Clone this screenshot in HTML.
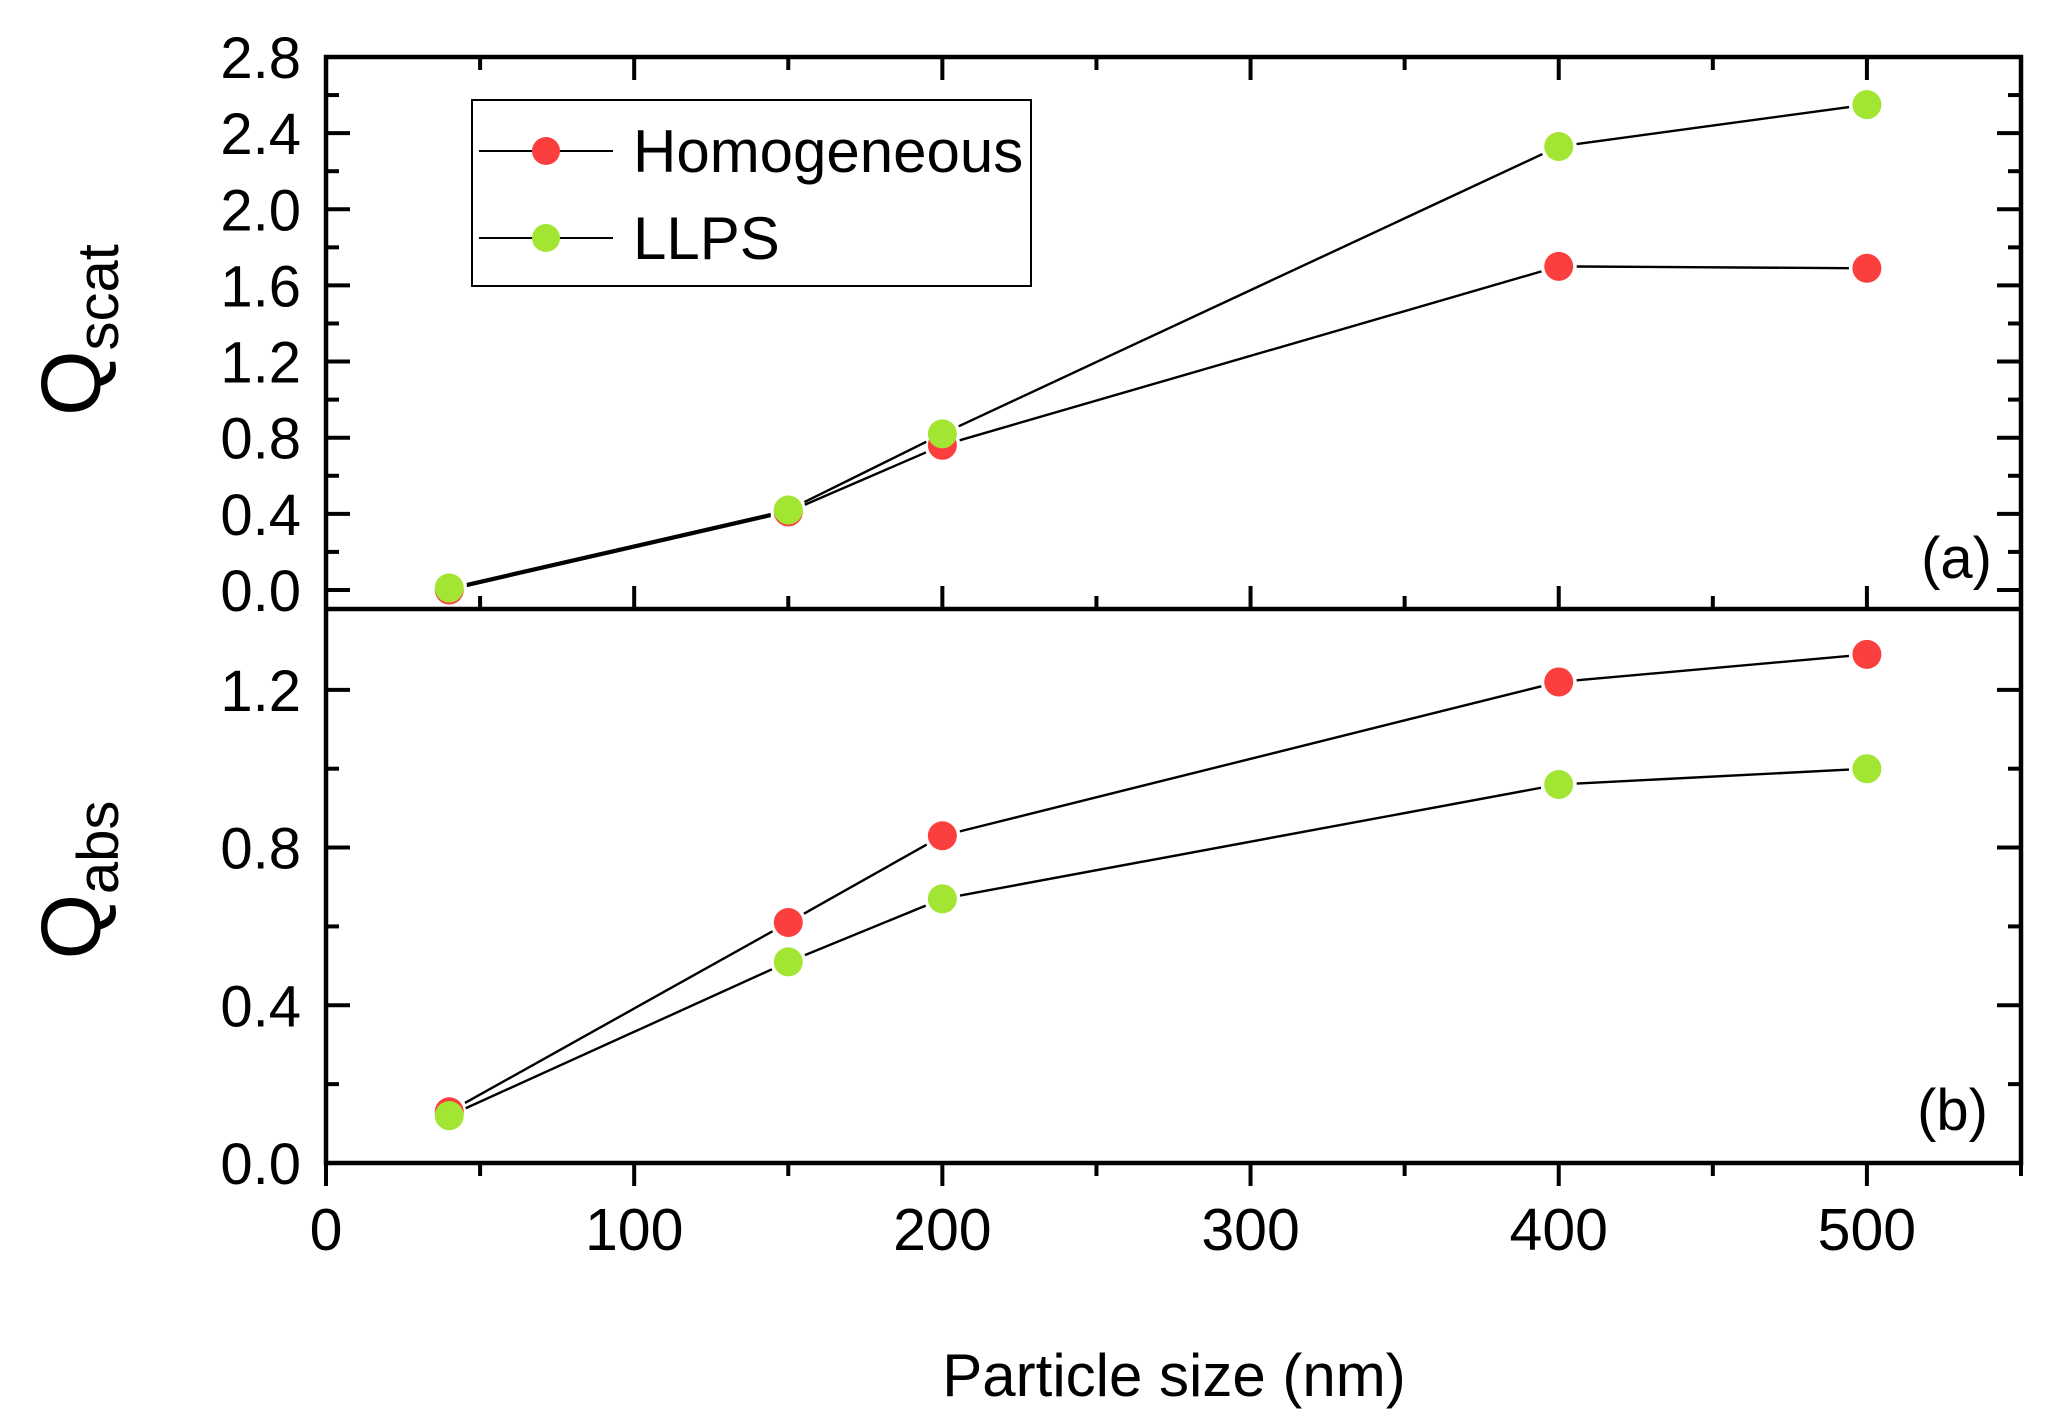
<!DOCTYPE html>
<html><head><meta charset="utf-8"><style>
html,body{margin:0;padding:0;background:#fff;}
svg{display:block;font-family:"Liberation Sans",Arial,sans-serif;}
</style></head><body>
<svg id="chart" width="2067" height="1423" viewBox="0 0 2067 1423" xmlns="http://www.w3.org/2000/svg">
<rect width="2067" height="1423" fill="#fff"/>
<g id="plot"></g>
</svg>
<script>
const sizes = [40, 150, 200, 400, 500];
const scatHomog = [0.00, 0.41, 0.76, 1.70, 1.69];
const scatLLPS = [0.01, 0.42, 0.82, 2.33, 2.55];
const absHomog = [0.13, 0.61, 0.83, 1.22, 1.29];
const absLLPS = [0.12, 0.51, 0.67, 0.96, 1.00];
const xTicks = [0, 100, 200, 300, 400, 500];
const scatTicks = ["0.0","0.4","0.8","1.2","1.6","2.0","2.4","2.8"];
const absTicks = ["0.0","0.4","0.8","1.2"];

const NS = "http://www.w3.org/2000/svg";
const g = document.getElementById('plot');
function mk(tag, attrs, parent) {
  const e = document.createElementNS(NS, tag);
  for (const k in attrs) e.setAttribute(k, attrs[k]);
  (parent || g).appendChild(e);
  return e;
}
const L = 326, R = 2021, T = 57, MID = 609, B = 1163;
const xS = v => L + (v / 550) * (R - L);
const yTop = v => T + (2.8 - v) / 2.9 * (MID - T);
const yBot = v => B - v / 1.405 * (B - MID);
const RED = "#fb3f3f", GREEN = "#a2e532";

let e;
e = mk('rect', {x: L, y: T, width: R - L, height: B - T, fill: 'none', stroke: '#000', 'stroke-width': 4.5});
 
e = mk('line', {x1: L, x2: R, y1: MID, y2: MID, stroke: '#000', 'stroke-width': 4.5});
 

for (let v = 0; v <= 550; v += 50) {
  const x = xS(v), major = v % 100 === 0, len = major ? 23 : 13;
  e = mk('line', {x1: x, x2: x, y1: T, y2: T + len, stroke: '#000', 'stroke-width': 4});
   
  e = mk('line', {x1: x, x2: x, y1: MID, y2: MID - len, stroke: '#000', 'stroke-width': 4});
   
  e = mk('line', {x1: x, x2: x, y1: B, y2: B + len, stroke: '#000', 'stroke-width': 4});
   
}
xTicks.forEach(v => {
  e = mk('text', {x: xS(v), y: 1250, 'font-size': 59, 'text-anchor': 'middle'});
  e.textContent = String(v);
   
});

for (let i = 0; i <= 14; i++) {
  const v = i * 0.2; if (v > 2.8001) break;
  const y = yTop(v), major = i % 2 === 0, len = major ? 24 : 13;
  e = mk('line', {x1: L, x2: L + len, y1: y, y2: y, stroke: '#000', 'stroke-width': 4});
   
  e = mk('line', {x1: R, x2: R - len, y1: y, y2: y, stroke: '#000', 'stroke-width': 4});
   
}
scatTicks.forEach(t => {
  e = mk('text', {x: 301, y: yTop(parseFloat(t)) + 21, 'font-size': 58, 'text-anchor': 'end'});
  e.textContent = t;
   
});
for (let i = 0; i <= 7; i++) {
  const v = i * 0.2; const y = yBot(v);
  if (y < MID + 2) break;
  const major = i % 2 === 0, len = major ? 24 : 13;
  e = mk('line', {x1: L, x2: L + len, y1: y, y2: y, stroke: '#000', 'stroke-width': 4});
   
  e = mk('line', {x1: R, x2: R - len, y1: y, y2: y, stroke: '#000', 'stroke-width': 4});
   
}
absTicks.forEach(t => {
  e = mk('text', {x: 301, y: yBot(parseFloat(t)) + 21, 'font-size': 58, 'text-anchor': 'end'});
  e.textContent = t;
   
});

function series(vals, yf, color, name) {
  const gap = 18;
  for (let i = 0; i < sizes.length - 1; i++) {
    const x1 = xS(sizes[i]), y1 = yf(vals[i]), x2 = xS(sizes[i + 1]), y2 = yf(vals[i + 1]);
    const d = Math.hypot(x2 - x1, y2 - y1), ux = (x2 - x1) / d, uy = (y2 - y1) / d;
    e = mk('line', {x1: x1 + ux * gap, y1: y1 + uy * gap, x2: x2 - ux * gap, y2: y2 - uy * gap, stroke: '#000', 'stroke-width': 2.4});
     
  }
  sizes.forEach((s, i) => {
    e = mk('circle', {cx: xS(s), cy: yf(vals[i]), r: 14.5, fill: color});
     
  });
}
series(scatHomog, yTop, RED, 'scat-homogeneous');
series(scatLLPS, yTop, GREEN, 'scat-llps');
series(absHomog, yBot, RED, 'abs-homogeneous');
series(absLLPS, yBot, GREEN, 'abs-llps');

e = mk('rect', {x: 472, y: 100, width: 559, height: 186, fill: '#fff', stroke: '#000', 'stroke-width': 2});
 
[[151, RED, 'Homogeneous'], [238, GREEN, 'LLPS']].forEach(([y, c, t]) => {
  e = mk('line', {x1: 479, x2: 613, y1: y, y2: y, stroke: '#000', 'stroke-width': 2});
   
  e = mk('circle', {cx: 546, cy: y, r: 14, fill: c});
   
  e = mk('text', {x: 633, y: y + 21, 'font-size': 60});
  e.textContent = t;
   
});

e = mk('text', {x: 1992, y: 578, 'font-size': 58, 'text-anchor': 'end'}); e.textContent = '(a)';
 
e = mk('text', {x: 1988, y: 1130, 'font-size': 58, 'text-anchor': 'end'}); e.textContent = '(b)';
 

e = mk('text', {x: 1174, y: 1396, 'font-size': 60, 'text-anchor': 'middle'}); e.textContent = 'Particle size (nm)';
 
function ylab(cx, cy, sub, name) {
  const t = mk('text', {x: 0, y: 0, 'font-size': 84, 'text-anchor': 'middle', transform: `translate(${cx},${cy}) rotate(-90)`});
   
  const a = mk('tspan', {}, t); a.textContent = 'Q';
  const b = mk('tspan', {'font-size': 58, dy: 18}, t); b.textContent = sub;
}
ylab(100, 330, 'scat', 'y-axis-title-scat');
ylab(100, 880, 'abs', 'y-axis-title-abs');
</script>
</body></html>
